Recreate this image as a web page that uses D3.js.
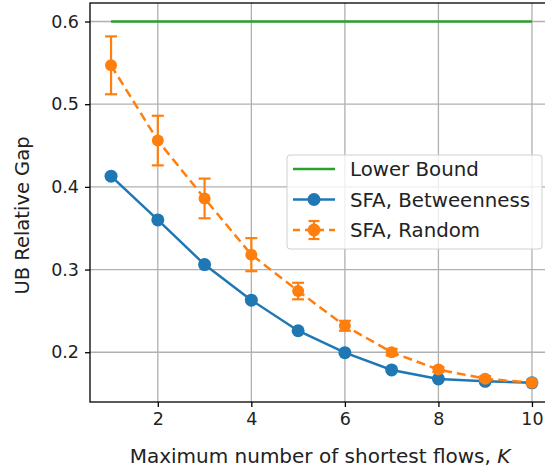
<!DOCTYPE html>
<html>
<head>
<meta charset="utf-8">
<script src="https://cdn.jsdelivr.net/npm/d3@7"></script>
<style>
  body { margin: 0; background: #fff; }
  svg { display: block; font-family: "DejaVu Sans", sans-serif; }
</style>
</head>
<body>
<div id="chart"></div>
<script>
// data
var kValues = [1, 2, 3, 4, 5, 6, 7, 8, 9, 10];
var betweenness = [0.413, 0.360, 0.306, 0.263, 0.226, 0.1995, 0.1786, 0.1677, 0.1648, 0.1630];
var randomMean = [0.547, 0.456, 0.386, 0.318, 0.274, 0.232, 0.200, 0.179, 0.168, 0.163];
var randomErr = [0.035, 0.030, 0.024, 0.020, 0.010, 0.006, 0.004, 0.003, 0.003, 0.002];
var lowerBound = 0.6;
var xTicks = [2, 4, 6, 8, 10];
var yTicks = [0.2, 0.3, 0.4, 0.5, 0.6];
var legendLabels = ["Lower Bound", "SFA, Betweenness", "SFA, Random"];

var svgWidth = 545;
var svgHeight = 473;
var margin = { top: 3, left: 90, right: 0, bottom: 71 };
var width = 463;   // axes run past the right edge of the picture
var height = svgHeight - margin.top - margin.bottom;

var blue = "#1f77b4", orange = "#ff7f0e", green = "#2ca02c";

var svg = d3.select("#chart").append("svg")
    .attr("width", svgWidth)
    .attr("height", svgHeight);

var chartGroup = svg.append("g")
    .attr("transform", `translate(${margin.left}, ${margin.top})`);

var xScale = d3.scaleLinear().domain([0.55, 10.45]).range([0, width]);
var yScale = d3.scaleLinear().domain([0.1398, 0.6224]).range([height, 0]);

// grid
chartGroup.append("g").selectAll("line").data(xTicks).join("line")
    .attr("x1", d => xScale(d)).attr("x2", d => xScale(d))
    .attr("y1", 0).attr("y2", height)
    .attr("stroke", "#b0b0b0").attr("stroke-width", 1.3);
chartGroup.append("g").selectAll("line").data(yTicks).join("line")
    .attr("x1", 0).attr("x2", width)
    .attr("y1", d => yScale(d)).attr("y2", d => yScale(d))
    .attr("stroke", "#b0b0b0").attr("stroke-width", 1.3);

// axes
var xAxis = d3.axisBottom(xScale).tickValues(xTicks).tickSize(5).tickPadding(6).tickFormat(d3.format("d"));
var yAxis = d3.axisLeft(yScale).tickValues(yTicks).tickSize(5).tickPadding(6).tickFormat(d3.format(".1f"));

var gx = chartGroup.append("g").attr("transform", `translate(0, ${height})`).call(xAxis);
var gy = chartGroup.append("g").call(yAxis);
[gx, gy].forEach(function(g) {
    g.select(".domain").remove();
    g.selectAll("line").attr("stroke", "#000").attr("stroke-width", 1.3);
    g.selectAll("text").attr("font-size", 17.5).attr("fill", "#222")
        .attr("font-family", "DejaVu Sans, sans-serif");
});

// spines
chartGroup.append("rect")
    .attr("x", 0).attr("y", 0).attr("width", width).attr("height", height)
    .attr("fill", "none").attr("stroke", "#000").attr("stroke-width", 1.3);

// lower bound
var lineGen = d3.line().x(d => xScale(d[0])).y(d => yScale(d[1]));
chartGroup.append("path")
    .attr("d", lineGen([[kValues[0], lowerBound], [kValues[kValues.length - 1], lowerBound]]))
    .attr("stroke", green).attr("stroke-width", 2.5).attr("fill", "none");

// betweenness
var bData = kValues.map((k, i) => [k, betweenness[i]]);
chartGroup.append("path")
    .attr("d", lineGen(bData))
    .attr("stroke", blue).attr("stroke-width", 2.5).attr("fill", "none");
chartGroup.append("g").selectAll("circle").data(bData).join("circle")
    .attr("cx", d => xScale(d[0])).attr("cy", d => yScale(d[1]))
    .attr("r", 6.5).attr("fill", blue);

// random with error bars
var rData = kValues.map((k, i) => [k, randomMean[i], randomErr[i]]);
chartGroup.append("path")
    .attr("d", lineGen(rData))
    .attr("stroke", orange).attr("stroke-width", 2.5).attr("fill", "none")
    .attr("stroke-dasharray", "9,5");
var eb = chartGroup.append("g").selectAll("g").data(rData).join("g")
    .attr("stroke", orange).attr("stroke-width", 2.2);
eb.append("line")
    .attr("x1", d => xScale(d[0])).attr("x2", d => xScale(d[0]))
    .attr("y1", d => yScale(d[1] - d[2])).attr("y2", d => yScale(d[1] + d[2]));
eb.append("line")
    .attr("x1", d => xScale(d[0]) - 6).attr("x2", d => xScale(d[0]) + 6)
    .attr("y1", d => yScale(d[1] - d[2])).attr("y2", d => yScale(d[1] - d[2]));
eb.append("line")
    .attr("x1", d => xScale(d[0]) - 6).attr("x2", d => xScale(d[0]) + 6)
    .attr("y1", d => yScale(d[1] + d[2])).attr("y2", d => yScale(d[1] + d[2]));
chartGroup.append("g").selectAll("circle").data(rData).join("circle")
    .attr("cx", d => xScale(d[0])).attr("cy", d => yScale(d[1]))
    .attr("r", 6).attr("fill", orange);

// axis labels
svg.append("text")
    .attr("x", 320).attr("y", 463)
    .attr("text-anchor", "middle").attr("font-size", 20).attr("fill", "#222")
    .html('Maximum number of shortest flows, <tspan font-style="italic">K</tspan>');
svg.append("text")
    .attr("transform", `translate(29, ${margin.top + height / 2 + 13}) rotate(-90)`)
    .attr("text-anchor", "middle").attr("font-size", 19.5).attr("fill", "#222")
    .text("UB Relative Gap");

// legend
var legend = svg.append("g").attr("transform", "translate(287, 155)");
legend.append("rect")
    .attr("width", 255).attr("height", 94).attr("rx", 3)
    .attr("fill", "#fff").attr("fill-opacity", 0.8)
    .attr("stroke", "#d0d0d0").attr("stroke-width", 1);
var rows = legend.selectAll("g").data(legendLabels).join("g")
    .attr("transform", (d, i) => `translate(0, ${14 + i * 30.5})`);
rows.append("text")
    .attr("x", 63).attr("y", 7)
    .attr("font-size", 19.8).attr("fill", "#222")
    .text(d => d);
rows.append("line")
    .attr("x1", 6).attr("x2", 48)
    .attr("stroke", (d, i) => [green, blue, orange][i]).attr("stroke-width", 2.5)
    .attr("stroke-dasharray", (d, i) => i === 2 ? "7,5" : null);
rows.filter((d, i) => i > 0).append("circle")
    .attr("cx", 27).attr("r", 6.5)
    .attr("fill", (d, i) => [blue, orange][i]);
var lr = rows.filter((d, i) => i === 2).append("g")
    .attr("stroke", orange).attr("stroke-width", 2.2);
lr.append("line").attr("x1", 27).attr("x2", 27).attr("y1", -9).attr("y2", 9);
lr.append("line").attr("x1", 21.5).attr("x2", 32.5).attr("y1", -9).attr("y2", -9);
lr.append("line").attr("x1", 21.5).attr("x2", 32.5).attr("y1", 9).attr("y2", 9);
</script>
</body>
</html>
